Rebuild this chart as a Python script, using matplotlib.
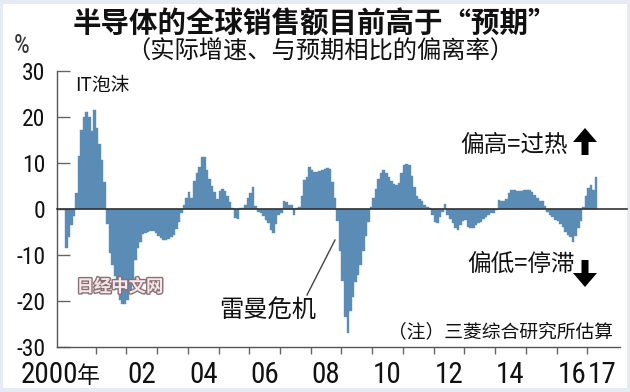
import matplotlib
matplotlib.use('Agg')
import matplotlib.pyplot as plt
import matplotlib.patheffects as pe
from matplotlib import font_manager
from matplotlib.lines import Line2D
from matplotlib.patches import Polygon, Rectangle
from matplotlib.transforms import blended_transform_factory
import numpy as np

# 实际增速与预期相比的偏离率(%)，每月一个值
y2000 = [-8.5, -6, -3.5, -1.5, 3.5, 11.5, 17.2, 20, 21.2, 20, 17, 21.6]
y2001 = [17.6, 14.3, 10.7, 6, -3.3, -9.5, -12, -14.6, -17, -19.8, -20.5, -20.5]
y2002 = [-19.8, -18, -15.6, -11, -8.5, -7, -5.3, -5.2, -5, -4.8, -4.8, -5.2]
y2003 = [-5.8, -6.3, -6.6, -6.7, -6.5, -6.0, -5.5, -4.2, -2.8, -0.8, 1, 2.5]
y2004 = [3.8, 2.5, 6.2, 8, 9.3, 11.4, 11.3, 8.5, 6.5, 5, 3.8, 2.3]
y2005 = [4, 4.4, 4, 3, 1.5, 0.3, -1.9, -2, 0.2, 0.3, 1, 2.4]
y2006 = [3.5, 4.8, 0.8, -0.5, -0.9, -1.4, -2.3, -3, -4.5, -5.2, -3.3, -1.2]
y2007 = [-0.8, 1.7, 1.5, 1, 0.9, -1.2, 0.2, 0.5, 3, 6.3, 7, 9.3]
y2008 = [8.5, 8.2, 8.2, 8.3, 8.5, 8.8, 8.9, 8.7, 6, 2.4, -2.5, -9]
y2009 = [-15.5, -23.5, -26.8, -22, -19, -15.8, -14.3, -12, -9, -5.9, -2.7, 0.5]
y2010 = [2.5, 4.5, 6.5, 8, 8.6, 8, 7, 6.2, 5.6, 5.3, 5.8, 8]
y2011 = [9.6, 9.8, 9.7, 7.3, 4.8, 2.8, 2.2, 1.7, 0.9, 0.4, 0.2, -1.2]
y2012 = [-2.8, -3, -1.6, -0.5, 1.2, -1.2, -2, -3, -4.1, -4.5, -3.4, -2.5]
y2013 = [-2.3, -3.8, -4.1, -4.1, -3.4, -3, -2.7, -2.2, -1.6, -1.2, -0.9, -0.8]
y2014 = [-0.2, 2, 1.8, 1.9, 2.2, 3.5, 4.1, 4.1, 4, 3.9, 3.9, 4.1]
y2015 = [4.3, 4.2, 3.8, 3.1, 2.4, 1.9, 1.7, 0.8, -0.5, -1.2, -1.6, -2.3]
y2016 = [-2.6, -3.2, -3.8, -4.9, -5.6, -6, -7, -5.9, -4.1, -2.5, 0.5, 2.8]
y2017 = [4.6, 5.3, 4.2, 7.1]

year_labels = ['2000', '02', '04', '06', '08', '10', '12', '14', '16', '17']
label_years = [0, 2, 4, 6, 8, 10, 12, 14, 16, 17]  # 距2000年的年数
y_ticks = [30, 20, 10, 0, -10, -20, -30]
y_tick_labels = ['30', '20', '10', '0', '-10', '-20', '-30']

values = np.array(y2000 + y2001 + y2002 + y2003 + y2004 + y2005 + y2006 + y2007 + y2008
                  + y2009 + y2010 + y2011 + y2012 + y2013 + y2014 + y2015 + y2016 + y2017)
months = np.arange(len(values))

installed = {f.name for f in font_manager.fontManager.ttflist}
NARROW = next((n for n in ['Liberation Sans Narrow', 'Roboto Condensed', 'Open Sans Condensed']
               if n in installed), 'Liberation Sans')
CJK = 'Noto Sans CJK SC'
plt.rcParams['font.family'] = [NARROW, CJK, 'DejaVu Sans']
narrow = NARROW != 'Liberation Sans'
x_fs = 21 if narrow else 18
y_fs = 17 if narrow else 15

W, H = 630, 392
BAR = '#5a8cb6'


def fx(x):
    return x / W


def fy(y):
    return 1 - y / H


fig = plt.figure(figsize=(W / 100, H / 100), dpi=100, facecolor='#e4ebf5')
fig.add_artist(Rectangle((fx(3), fy(388)), (W - 6) / W, 384 / H, transform=fig.transFigure,
                         facecolor='white', edgecolor='none', zorder=-1))

ax_top, ax_bot, ax_l, ax_r = 71.3, 347.3, 57, 620
ax = fig.add_axes([fx(ax_l), fy(ax_bot), (ax_r - ax_l) / W, (ax_bot - ax_top) / H])
ax.patch.set_visible(False)

px_per_month = 2.56
x0 = 65  # 2000年1月的像素位置
ax.bar(months, values, width=1, align='edge', color=BAR, edgecolor=BAR, linewidth=0.3)
ax.set_xlim((ax_l - x0) / px_per_month, (ax_r - x0) / px_per_month)
ax.set_ylim(-30, 30)
ax.plot([(ax_l - x0) / px_per_month, (627 - x0) / px_per_month], [0, 0],
        color='#333333', lw=1.2, clip_on=False, zorder=3)

for s in ['top', 'right']:
    ax.spines[s].set_visible(False)
for s in ['left', 'bottom']:
    ax.spines[s].set_color('#555555')
    ax.spines[s].set_linewidth(1)

ax.set_xticks(np.arange(12, len(values), 12))
ax.tick_params(axis='x', direction='out', length=5, width=1, color='#666666', labelbottom=False)
ax.set_yticks(y_ticks, labels=y_tick_labels)
ax.tick_params(axis='y', direction='in', length=9, width=1, color='#666666', pad=8.5,
               labelsize=y_fs, labelcolor='#111111')

trans = blended_transform_factory(ax.transData, ax.transAxes)
label_y = (ax_bot - 383) / (ax_bot - ax_top)
for k, lab in zip(label_years, year_labels):
    if k == 0:
        ax.text((78 - x0) / px_per_month, label_y, lab, transform=trans, ha='right',
                va='baseline', fontsize=x_fs, color='#111111')
        ax.text((77 - x0) / px_per_month, label_y, '年', transform=trans, ha='left',
                va='baseline', fontsize=16.5, family=CJK, color='#111111')
    else:
        ax.text(12 * k + 6, label_y, lab, transform=trans, ha='center', va='baseline',
                fontsize=x_fs, color='#111111')

fig.text(fx(315), fy(25), '半导体的全球销售额目前高于“预期”', ha='center', va='center',
         fontsize=20.5, fontweight='bold', family=CJK, color='#111111')
fig.text(fx(320), fy(52), '（实际增速、与预期相比的偏离率）', ha='center', va='center',
         fontsize=17.5, family=CJK, color='#111111')
fig.text(fx(22), fy(46), '%', ha='center', va='center', fontsize=18, color='#333333')
fig.text(fx(75), fy(85), 'IT泡沫', ha='left', va='center', fontsize=13.5, family=CJK,
         color='#111111')
fig.text(fx(568), fy(146), '偏高=过热', ha='right', va='center', fontsize=17, family=CJK,
         color='#111111')
fig.text(fx(575), fy(264), '偏低=停滞', ha='right', va='center', fontsize=17, family=CJK,
         color='#111111')
fig.text(fx(268), fy(311), '雷曼危机', ha='center', va='center', fontsize=17.5, family=CJK,
         color='#111111')
fig.add_artist(Line2D([fx(307), fx(335)], [fy(295), fy(240)], color='#444444', lw=1))
fig.text(fx(613), fy(332), '（注）三菱综合研究所估算', ha='right', va='center', fontsize=13.5,
         family=CJK, color='#111111')
fig.text(fx(120), fy(287), '日经中文网', ha='center', va='center', fontsize=12.5,
         fontweight='bold', family=CJK, color='#f4e8ea',
         path_effects=[pe.withStroke(linewidth=2, foreground='#8c6f73')])


def arrow(xc, tip, base, tail):
    pts = [(xc, tip), (xc + 12, base), (xc + 3.5, base), (xc + 3.5, tail),
           (xc - 3.5, tail), (xc - 3.5, base), (xc - 12, base)]
    fig.add_artist(Polygon([(fx(px), fy(py)) for px, py in pts], closed=True,
                           transform=fig.transFigure, facecolor='black', edgecolor='none'))


arrow(585, 128, 142, 155)
arrow(585, 287, 273, 260)

fig.savefig('out.png', dpi=100, facecolor=fig.get_facecolor())
